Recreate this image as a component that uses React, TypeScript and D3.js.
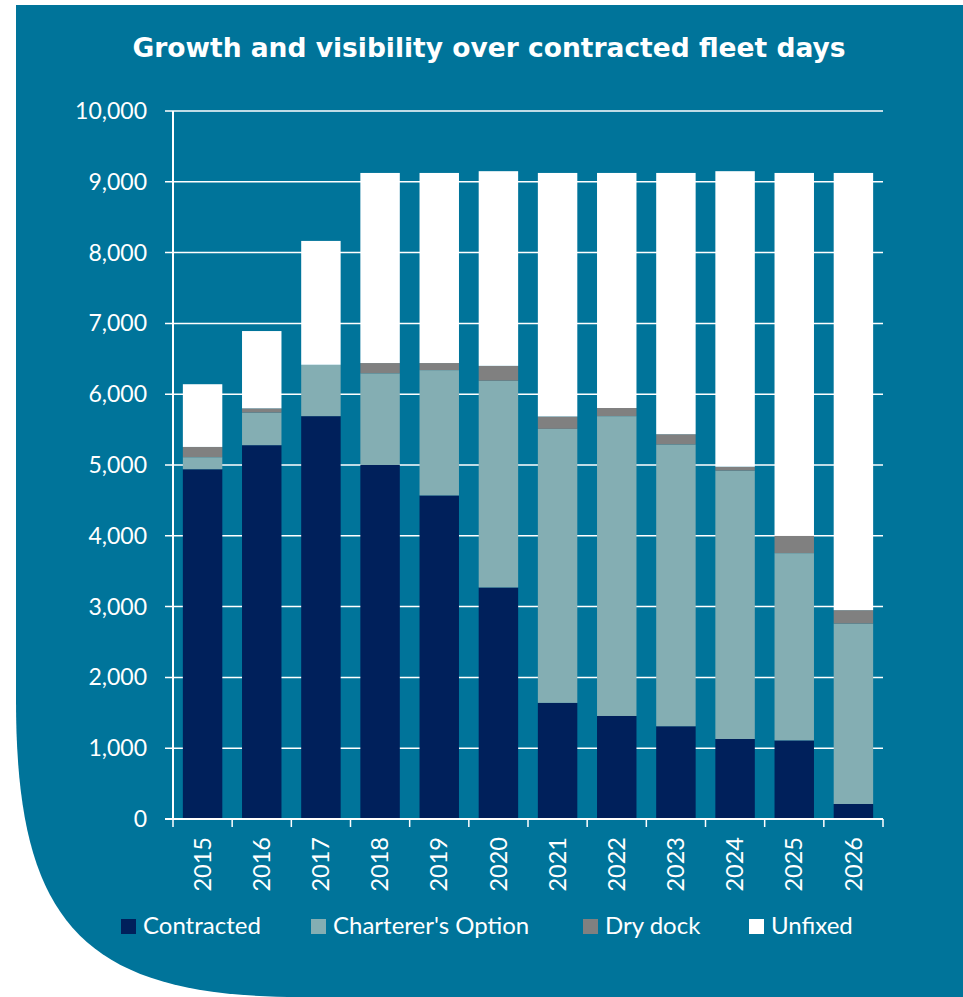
import React from "react";
import * as d3 from "d3";

const years = ["2015","2016","2017","2018","2019","2020","2021","2022","2023","2024","2025","2026"];
const contracted = [4940, 5280, 5690, 5000, 4570, 3270, 1640, 1455, 1310, 1130, 1110, 212];
const chartererOption = [170, 460, 725, 1295, 1770, 2920, 3870, 4235, 3980, 3790, 2645, 2548];
const dryDock = [145, 60, 0, 145, 100, 210, 175, 115, 145, 55, 245, 190];
const unfixed = [886, 1092, 1750, 2685, 2685, 2750, 3440, 3320, 3690, 4175, 5125, 6175];
const yTicks = [0, 1000, 2000, 3000, 4000, 5000, 6000, 7000, 8000, 9000, 10000];
const seriesNames = ["Contracted", "Charterer's Option", "Dry dock", "Unfixed"];
const seriesColors = ["#00205B", "#84AEB3", "#808080", "#FFFFFF"];

const W = 963, H = 997;
const BG = "#00749A";
const left = 173, right = 883, top = 111, bottom = 819;
const FONT = "Lato, 'Open Sans', sans-serif";

export default function App() {
  const x = d3.scaleBand<string>().domain(years).range([left, right]).paddingInner(1 / 3).paddingOuter(1 / 6);
  const y = d3.scaleLinear().domain([0, 10000]).range([bottom, top]);
  const table = years.map((yr, i) => ({
    year: yr,
    s0: contracted[i],
    s1: chartererOption[i],
    s2: dryDock[i],
    s3: unfixed[i],
  }));
  const stack = d3.stack<any>().keys(["s0", "s1", "s2", "s3"]);
  const layers = stack(table);
  const fmt = d3.format(",");
  const step = x.step();
  const edges = d3.range(years.length + 1).map((i) => left + i * step);
  const legendX = [121, 311, 583, 749];

  return (
    <svg width={W} height={H} style={{ position: "absolute", left: 0, top: 0 }}>
      <rect x={0} y={0} width={W} height={H} fill="#ffffff" />
      <path d={`M16,5 H${W} V${H} H300 C80,${H} 16,920 16,700 Z`} fill={BG} />
      <text x={489} y={57} textAnchor="middle" fill="#fff" fontFamily="'DejaVu Sans', sans-serif" fontWeight="bold" fontSize={26.5}>
        Growth and visibility over contracted fleet days
      </text>
      {yTicks.map((t) => (
        <g key={t}>
          <line x1={165} x2={right} y1={y(t)} y2={y(t)} stroke="#fff" strokeWidth={1.5} />
          <text x={147} y={y(t)} dy="0.35em" textAnchor="end" fill="#fff" fontFamily={FONT} fontSize={23}>
            {fmt(t)}
          </text>
        </g>
      ))}
      {layers.map((layer, li) => (
        <g key={li} fill={seriesColors[li]}>
          {layer.map((d: any, i: number) => (
            <rect key={i} x={x(years[i])} width={x.bandwidth()} y={y(d[1])} height={Math.max(0, y(d[0]) - y(d[1]))} />
          ))}
        </g>
      ))}
      <line x1={left} x2={left} y1={top} y2={bottom} stroke="#fff" strokeWidth={2} />
      <line x1={165} x2={right} y1={bottom} y2={bottom} stroke="#fff" strokeWidth={2} />
      {edges.map((e, i) => (
        <line key={i} x1={e} x2={e} y1={bottom} y2={bottom + 8} stroke="#fff" strokeWidth={1.5} />
      ))}
      {years.map((yr) => (
        <text key={yr} transform={`translate(${x(yr)! + x.bandwidth() / 2},${837}) rotate(-90)`} textAnchor="end" dy="0.35em" fill="#fff" fontFamily={FONT} fontSize={23.5}>
          {yr}
        </text>
      ))}
      {seriesNames.map((n, i) => (
        <g key={n}>
          <rect x={legendX[i]} y={919} width={15} height={15} fill={seriesColors[i]} />
          <text x={legendX[i] + 22} y={934} fill="#fff" fontFamily={FONT} fontSize={24}>
            {n}
          </text>
        </g>
      ))}
    </svg>
  );
}
